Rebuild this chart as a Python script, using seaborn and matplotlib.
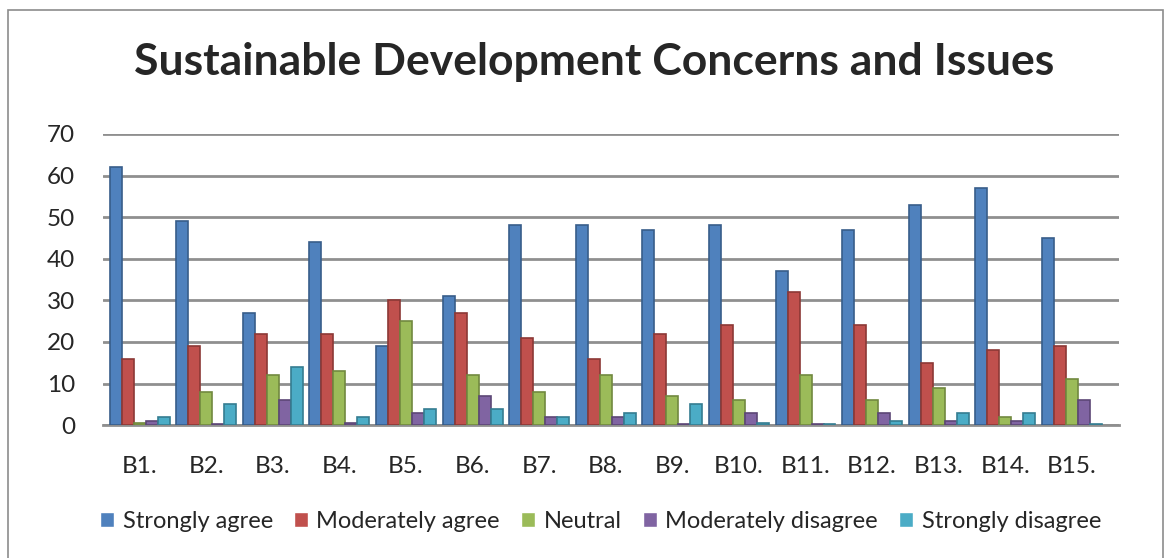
import pandas as pd
import matplotlib.pyplot as plt
import seaborn as sns
from matplotlib.patches import Rectangle

# Datos
items = ['B1.', 'B2.', 'B3.', 'B4.', 'B5.', 'B6.', 'B7.', 'B8.',
         'B9.', 'B10.', 'B11.', 'B12.', 'B13.', 'B14.', 'B15.']
strongly_agree = [62, 49, 27, 44, 19, 31, 48, 48, 47, 48, 37, 47, 53, 57, 45]
moderately_agree = [16, 19, 22, 22, 30, 27, 21, 16, 22, 24, 32, 24, 15, 18, 19]
neutral = [0.5, 8, 12, 13, 25, 12, 8, 12, 7, 6, 12, 6, 9, 2, 11]
moderately_disagree = [1, 0.3, 6, 0.5, 3, 7, 2, 2, 0.4, 3, 0.3, 3, 1, 1, 6]
strongly_disagree = [2, 5, 14, 2, 4, 4, 2, 3, 5, 0.5, 0.3, 1, 3, 3, 0.2]

series = ['Strongly agree', 'Moderately agree', 'Neutral',
          'Moderately disagree', 'Strongly disagree']
colores = ['#4F81BD', '#C0504D', '#9BBB59', '#8064A2', '#4BACC6']
bordes = ['#385D8A', '#8C3836', '#71893F', '#5C4776', '#357D91']

df = pd.DataFrame({
    'Item': items * 5,
    'Respuesta': sum([[s] * len(items) for s in series], []),
    'Valor': strongly_agree + moderately_agree + neutral
             + moderately_disagree + strongly_disagree,
})

sns.set_style('white')
plt.rcParams['font.family'] = ['Lato', 'DejaVu Sans']

fig = plt.figure(figsize=(11.7, 5.58), dpi=100)
ax = fig.add_axes([0.088, 0.238, 0.868, 0.522])

sns.barplot(data=df, x='Item', y='Valor', hue='Respuesta', hue_order=series,
            palette=colores, saturation=1, width=0.9, ax=ax, legend=True, zorder=3)

# bordes mas oscuros para imitar el relieve
for cont, borde in zip(ax.containers, bordes):
    for barra in cont:
        barra.set_edgecolor(borde)
        barra.set_linewidth(1.2)

ax.set_ylim(0, 70)
ax.set_yticks(range(0, 71, 10))
ax.set_xlim(-0.55, 14.7)
ax.yaxis.grid(True, color='#8f8f8f', linewidth=2, zorder=0)
ax.set_axisbelow(True)
for lado in ['top', 'right', 'left']:
    ax.spines[lado].set_visible(False)
ax.spines['bottom'].set_color('#8f8f8f')
ax.spines['bottom'].set_linewidth(2)
ax.tick_params(axis='y', length=0, pad=20, labelsize=17.5)
ax.tick_params(axis='x', length=0, pad=22, labelsize=17.5)
ax.set_xlabel('')
ax.set_ylabel('')

fig.text(0.508, 0.888, 'Sustainable Development Concerns and Issues',
         ha='center', va='center', fontsize=32, fontweight='bold')

ax.legend(loc='center', bbox_to_anchor=(0.49, -0.33), ncol=5, frameon=False,
          fontsize=17, handlelength=0.6, handleheight=0.6,
          handletextpad=0.35, columnspacing=0.9)

# marco exterior del grafico
fig.patches.append(Rectangle((0.007, -0.05), 0.987, 1.032, transform=fig.transFigure,
                             fill=False, edgecolor='#8c8c8c', linewidth=1.2))

fig.savefig('out.png', dpi=100)
